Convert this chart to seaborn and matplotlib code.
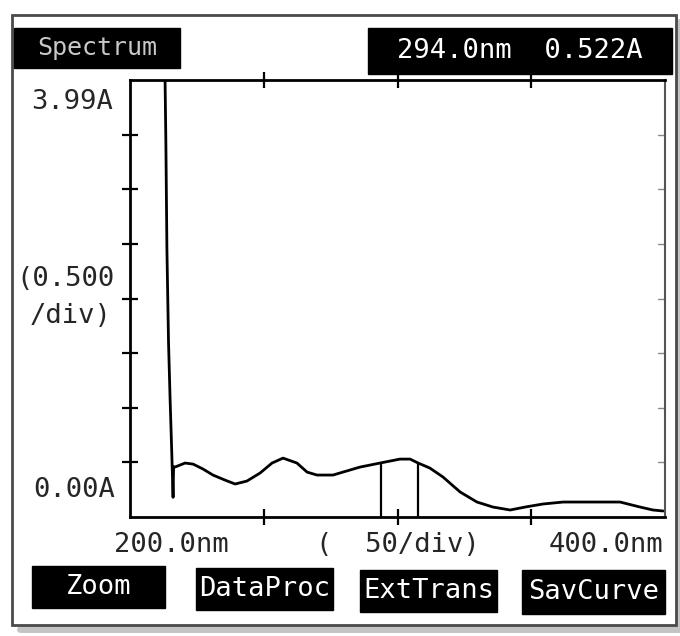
import numpy as np
import matplotlib.pyplot as plt
import seaborn as sns
from matplotlib.patches import Rectangle
from matplotlib.lines import Line2D

# absorbance spectrum (nm, A)
wavelength = [213.0, 213.4, 213.8, 214.4, 215.0, 215.6, 216.1, 216.3, 216.8,
              220.6, 223.6, 227.3, 231.0, 235.5, 239.3, 243.7, 248.6, 253.1,
              257.2, 262.4, 266.2, 269.9, 275.9, 279.6, 286.0, 293.5, 300.9,
              304.7, 307.7, 312.1, 317.0, 323.4, 329.7, 335.7, 342.1, 347.7,
              354.4, 361.9, 383.2, 390.7, 395.5, 399.3]
absorbance = [4.20, 3.45, 2.45, 1.60, 1.07, 0.60, 0.18, 0.46, 0.457,
              0.494, 0.484, 0.439, 0.384, 0.338, 0.302, 0.329, 0.402, 0.494,
              0.539, 0.494, 0.411, 0.384, 0.384, 0.411, 0.457, 0.494, 0.530,
              0.530, 0.494, 0.448, 0.366, 0.229, 0.137, 0.091, 0.064, 0.091,
              0.119, 0.137, 0.137, 0.091, 0.064, 0.055]
cursors = [294.0, 307.5]

header_left = "Spectrum"
header_right = "294.0nm  0.522A"
buttons = ["Zoom", "DataProc", "ExtTrans", "SavCurve"]

sns.set_style("white")
plt.rcParams['font.family'] = ['DejaVu Sans Mono', 'DejaVu Sans']

W, H = 680, 636
fig = plt.figure(figsize=(W / 100, H / 100), dpi=100)
fig.patch.set_facecolor("white")


def fx(px):
    return px / W


def fy(py):
    return 1 - py / H


# outer screen frame with a soft shadow on the right and bottom
fig.lines.append(Line2D([fx(20), fx(679), fx(679)], [fy(629), fy(629), fy(22)],
                        transform=fig.transFigure, color="#c4c4c4", lw=5, zorder=0))
fig.patches.append(Rectangle((fx(12), fy(625)), fx(664), 610 / H, transform=fig.transFigure,
                             fill=False, edgecolor="#4a4a4a", lw=2, zorder=1))

ax = fig.add_axes([fx(130), fy(517), fx(535), 437 / H])
df = {"wl": wavelength, "a": absorbance}
sns.lineplot(data=df, x="wl", y="a", ax=ax, color="black", lw=2,
             estimator=None, sort=False)
cur_a = np.interp(cursors, wavelength, absorbance)
ax.vlines(cursors, 0, cur_a, color="black", lw=1.6)

ax.set_xlim(200, 400)
ax.set_ylim(0, 4.0)
ax.set_xlabel("")
ax.set_ylabel("")
ax.set_xticks([250, 300, 350])
ax.set_yticks(np.arange(0.5, 4.0, 0.5))
ax.set_xticklabels([])
ax.set_yticklabels([])
ax.tick_params(axis="both", which="both", direction="inout", length=11, width=1.6,
               color="black", bottom=True, top=True, left=True, right=False)
for s in ax.spines.values():
    s.set_visible(True)
    s.set_color("black")
    s.set_linewidth(2)
ax.spines["right"].set_color("#555555")
ax.spines["right"].set_linewidth(1.5)

# faint ticks on the right edge
for yv in np.arange(0.5, 4.0, 0.5):
    ax.plot([397.5, 400], [yv, yv], color="#888888", lw=1, clip_on=False)

fs = 19.5
# left axis labels
fig.text(fx(113), fy(102), "3.99A", ha="right", va="center", fontsize=fs)
fig.text(fx(16), fy(279), "(0.500", ha="left", va="center", fontsize=fs)
fig.text(fx(30), fy(316), "/div)", ha="left", va="center", fontsize=fs)
fig.text(fx(115), fy(490), "0.00A", ha="right", va="center", fontsize=fs)

# bottom axis labels
fig.text(fx(114), fy(545), "200.0nm", ha="left", va="center", fontsize=fs)
fig.text(fx(316), fy(545), "(  50/div)", ha="left", va="center", fontsize=fs)
fig.text(fx(663), fy(545), "400.0nm", ha="right", va="center", fontsize=fs)


def black_box(x0, y0, x1, y1, label, color="white", size=fs):
    fig.patches.append(Rectangle((fx(x0), fy(y1)), fx(x1 - x0), (y1 - y0) / H,
                                 transform=fig.transFigure, facecolor="black",
                                 edgecolor="black", zorder=2))
    fig.text(fx((x0 + x1) / 2), fy((y0 + y1) / 2), label, ha="center", va="center",
             color=color, fontsize=size, zorder=3)


black_box(14, 28, 180, 68, header_left, color="#c8c8c8", size=18)
black_box(368, 28, 672, 74, header_right, size=fs)

button_boxes = [(32, 566, 165, 608), (196, 568, 333, 610),
                (360, 570, 497, 612), (522, 570, 665, 614)]
for (x0, y0, x1, y1), lab in zip(button_boxes, buttons):
    black_box(x0, y0, x1, y1, lab)

fig.savefig("out.png", dpi=100)
